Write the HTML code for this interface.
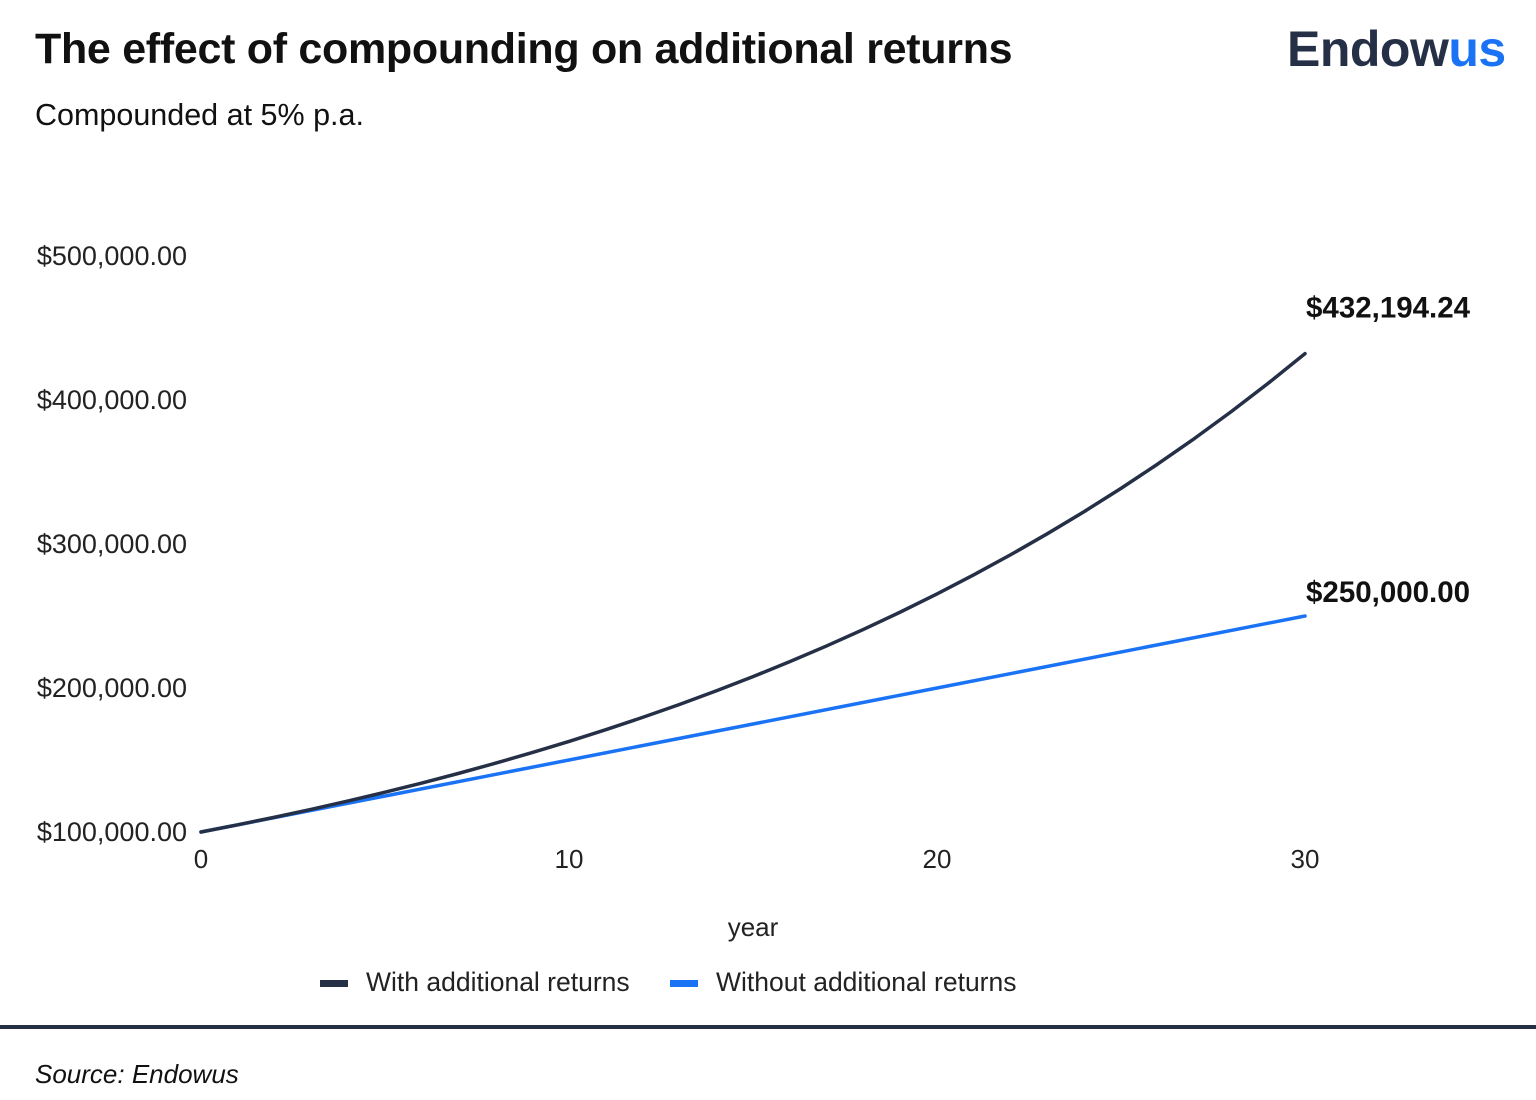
<!DOCTYPE html>
<html><head><meta charset="utf-8"><style>
html,body{margin:0;padding:0;background:#fff;width:1536px;height:1100px;overflow:hidden;font-family:"Liberation Sans",Arial,sans-serif;}
.abs{position:absolute;white-space:nowrap}
</style></head><body>
<div class="abs" style="left:35px;top:25px;font-size:43px;font-weight:bold;color:#111;letter-spacing:-0.3px">The effect of compounding on additional returns</div>
<div class="abs" style="left:35px;top:98px;font-size:30.5px;color:#111">Compounded at 5% p.a.</div>
<div class="abs" style="left:1287px;top:20px;font-size:50px;font-weight:bold;color:#253047;letter-spacing:-0.5px">Endow<span style="color:#1a73f5">us</span></div>
<svg id="chart" width="1536" height="1020" style="position:absolute;left:0;top:0"></svg>
<div class="abs" style="left:0;top:1025px;width:1536px;height:4px;background:#253047"></div>
<div class="abs" style="left:35px;top:1059px;font-size:26px;font-style:italic;color:#111">Source: Endowus</div>
<script>
const years=[0,1,2,3,4,5,6,7,8,9,10,11,12,13,14,15,16,17,18,19,20,21,22,23,24,25,26,27,28,29,30];
const withReturns=[100000,105000,110250,115763,121551,127628,134010,140710,147746,155133,162889,171034,179586,188565,197993,207893,218287,229202,240662,252695,265330,278596,292526,307152,322510,338635,355567,373346,392013,411614,432194];
const withoutYears=[0,10,20,30];
const withoutReturns=[100000,150000,200000,250000];
const yTicks=[100000,200000,300000,400000,500000];
const yTickLabels=["$100,000.00","$200,000.00","$300,000.00","$400,000.00","$500,000.00"];
const xTicks=[0,10,20,30];
const endLabels=["$432,194.24","$250,000.00"];
const NS="http://www.w3.org/2000/svg";
const svg=document.getElementById('chart');
const X=v=>201+(v-0)*(1305-201)/30;
const Y=v=>832-(v-100000)*(832-256)/400000;
function mk(tag,attrs,text){const e=document.createElementNS(NS,tag);for(const k in attrs)e.setAttribute(k,attrs[k]);if(text!==undefined)e.textContent=text;svg.appendChild(e);return e;}
yTicks.forEach((v,i)=>{const t=mk('text',{x:187,y:Y(v)+9,'text-anchor':'end','font-size':27,fill:'#222'},yTickLabels[i]);

});
xTicks.forEach(v=>{const t=mk('text',{x:X(v),y:868,'text-anchor':'middle','font-size':26,fill:'#222'},String(v));

});
const xt=mk('text',{x:753,y:936,'text-anchor':'middle','font-size':26,fill:'#222'},'year');


const p2=mk('path',{d:withoutYears.map((y,i)=>(i?'L':'M')+X(y)+','+Y(withoutReturns[i])).join(''),fill:'none',stroke:'#1a73f5','stroke-width':3.5,'stroke-linecap':'round'});


const p1=mk('path',{d:years.map((y,i)=>(i?'L':'M')+X(y)+','+Y(withReturns[i])).join(''),fill:'none',stroke:'#253047','stroke-width':3.5,'stroke-linejoin':'round','stroke-linecap':'round'});


const l1=mk('text',{x:X(30)+1,y:Y(withReturns[withReturns.length-1])-36,'font-size':29.5,'font-weight':'bold',fill:'#111'},endLabels[0]);


const l2=mk('text',{x:X(30)+1,y:Y(withoutReturns[withoutReturns.length-1])-14,'font-size':29.5,'font-weight':'bold',fill:'#111'},endLabels[1]);


const r1=mk('rect',{x:320,y:980,width:28,height:7,fill:'#253047'});


const t1=mk('text',{x:366,y:991,'font-size':26.5,fill:'#222'},'With additional returns');


const r2=mk('rect',{x:670,y:980,width:28,height:7,fill:'#1a73f5'});


const t2=mk('text',{x:716,y:991,'font-size':26.5,fill:'#222'},'Without additional returns');


</script>
</body></html>
